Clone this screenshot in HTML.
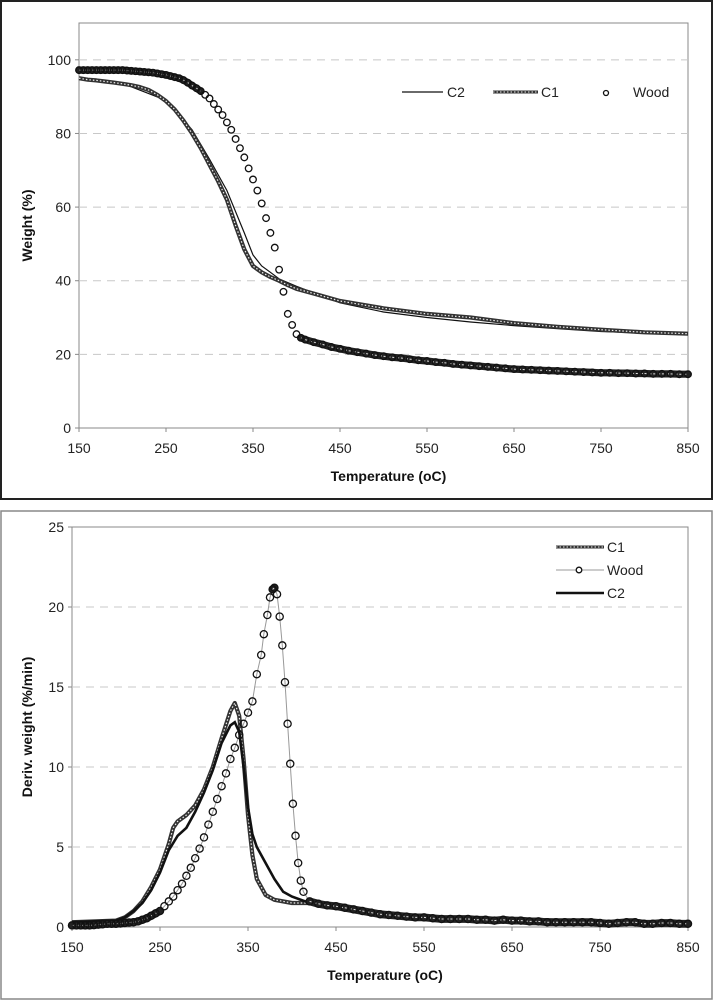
<!DOCTYPE html>
<html><head><meta charset="utf-8">
<style>
body{margin:0;background:#fff;}
svg{display:block;font-family:"Liberation Sans",Arial,sans-serif;}
</style></head>
<body>
<svg id="s" width="714" height="1000" viewBox="0 0 714 1000" xmlns="http://www.w3.org/2000/svg">
<rect x="1" y="1" width="711" height="498" fill="#fff" stroke="#222" stroke-width="2"/>
<rect x="1" y="511" width="711" height="488" fill="#fff" stroke="#888" stroke-width="1.5"/>
<g id="top"></g><g id="bot"></g>
</svg>
<script>
// ---- Top chart data (Weight %) ----
const xTicks = [150,250,350,450,550,650,750,850];
const topYTicks = [0,20,40,60,80,100];
const topC1T = [150,160,170,180,190,200,210,220,230,240,250,260,270,280,290,300,310,320,330,340,350,360,370,380,390,400,420,450,500,550,600,650,700,750,800,850];
const topC1V = [95,94.6,94.4,94.1,93.8,93.5,93.1,92.6,91.8,90.5,88.8,86.5,83.5,80,76,71.5,67,62,55,48.5,44,42.3,41,40,38.8,37.8,36.5,34.5,32.5,31,30,28.5,27.5,26.7,26,25.6];
const topC2T = [150,200,250,280,300,320,340,350,360,370,380,400,450,500,550,600,650,700,750,800,850];
const topC2V = [95,93.6,89,81,73,64.5,53,47,44,42.3,40.5,38.5,34,31.5,30,28.8,27.8,27,26.2,25.8,25.3];
const topWoodT = [150,155,160,165,170,175,180,185,190,195,200,205,210,215,220,225,230,235,240,245,250,255,260,265,270,275,280,285,290,295,300,305,310,315,320,325,330,335,340,345,350,355,360,365,370,375,380,385,390,395,400,405,410,420,430,440,450,460,470,480,490,500,510,520,530,540,550,560,570,580,590,600,610,620,630,640,650,660,670,680,690,700,710,720,730,740,750,760,770,780,790,800,810,820,830,840,850];
const topWoodV = [97.2,97.2,97.2,97.2,97.2,97.2,97.2,97.2,97.2,97.2,97.2,97.1,97,96.9,96.8,96.7,96.6,96.5,96.3,96.1,95.9,95.6,95.3,95,94.5,93.8,93,92.3,91.5,90.5,89.5,88,86.5,85,83,81,78.5,76,73.5,70.5,67.5,64.5,61,57,53,49,43,37,31,28,25.5,24.5,24,23.3,22.7,22,21.5,21,20.6,20.2,19.8,19.5,19.2,19,18.7,18.4,18.2,17.9,17.7,17.4,17.2,17,16.8,16.6,16.4,16.2,16,15.9,15.8,15.7,15.6,15.5,15.4,15.3,15.2,15.1,15,15,14.9,14.9,14.8,14.8,14.7,14.7,14.7,14.6,14.6];
// ---- Bottom chart data (Deriv. weight %/min) ----
const botYTicks = [0,5,10,15,20,25];
const botC1T = [150,200,210,220,230,240,250,260,265,270,280,290,300,310,320,330,335,340,345,350,355,360,370,380,400,420,450,500,550,600,650,700,750,800,850];
const botC1V = [0.3,0.4,0.6,1,1.6,2.5,3.6,5.2,6.2,6.6,7,7.6,8.6,10,11.8,13.5,14,13.2,10.5,7,4.5,3,2,1.7,1.5,1.5,1.3,0.9,0.6,0.5,0.5,0.4,0.3,0.3,0.2];
const botC2T = [150,200,210,220,230,240,250,260,270,280,290,300,310,320,330,335,340,345,350,355,360,370,380,390,400,420,450,500,550,600,650,700,750,800,850];
const botC2V = [0.3,0.4,0.6,1,1.5,2.3,3.4,4.8,5.7,6.2,7.2,8.4,9.8,11.5,12.6,12.8,12.2,10,7.5,5.8,5,4,3,2.2,1.9,1.5,1.3,0.9,0.6,0.5,0.4,0.35,0.3,0.25,0.2];
const botWoodT = [150,155,160,165,170,175,180,185,190,195,200,205,210,215,220,225,230,235,240,245,250,255,260,265,270,275,280,285,290,295,300,305,310,315,320,325,330,335,340,345,350,355,360,365,368,372,375,378,380,383,386,389,392,395,398,401,404,407,410,413,420,430,440,450,460,470,480,490,500,510,520,530,540,550,560,570,580,590,600,610,620,630,640,650,660,670,680,690,700,710,720,730,740,750,760,770,780,790,800,810,820,830,840,850];
const botWoodV = [0.1,0.1,0.1,0.1,0.1,0.12,0.15,0.17,0.2,0.2,0.2,0.22,0.25,0.28,0.3,0.35,0.45,0.55,0.7,0.85,1,1.3,1.6,1.9,2.3,2.7,3.2,3.7,4.3,4.9,5.6,6.4,7.2,8,8.8,9.6,10.5,11.2,12,12.7,13.4,14.1,15.8,17,18.3,19.5,20.6,21.1,21.2,20.8,19.4,17.6,15.3,12.7,10.2,7.7,5.7,4,2.9,2.2,1.6,1.45,1.35,1.3,1.2,1.1,1,0.9,0.8,0.75,0.7,0.65,0.6,0.6,0.55,0.5,0.5,0.5,0.5,0.45,0.45,0.4,0.45,0.4,0.4,0.35,0.35,0.3,0.3,0.3,0.3,0.3,0.3,0.25,0.2,0.25,0.3,0.3,0.2,0.2,0.25,0.25,0.2,0.2];

const NS="http://www.w3.org/2000/svg";
function mk(parent,tag,attrs,txt){const e=document.createElementNS(NS,tag);for(const k in attrs)e.setAttribute(k,attrs[k]);if(txt!==undefined)e.textContent=txt;parent.appendChild(e);return e;}

function axes(g,L,R,T,B,ymax,yTicks,sx,sy,ytitle,prefix){
  mk(g,'rect',{x:L,y:T,width:R-L,height:B-T,fill:'none',stroke:'#888','stroke-width':1});
  yTicks.forEach(v=>{
    if(v>0&&v<ymax){const gl=mk(g,'line',{x1:L,x2:R,y1:sy(v),y2:sy(v),stroke:'#c8c8c8','stroke-dasharray':'8 6'});
    
    }
    mk(g,'line',{x1:L-4,x2:L,y1:sy(v),y2:sy(v),stroke:'#888'});
    const t=mk(g,'text',{x:L-8,y:sy(v)+5,'text-anchor':'end','font-size':14,fill:'#222'},String(v));
    
    
  });
  xTicks.forEach(v=>{
    mk(g,'line',{x1:sx(v),x2:sx(v),y1:B,y2:B+4,stroke:'#888'});
    const t=mk(g,'text',{x:sx(v),y:B+25,'text-anchor':'middle','font-size':14,fill:'#222'},String(v));
    
    
  });
  const xt=mk(g,'text',{x:(L+R)/2+5,y:B+53,'text-anchor':'middle','font-size':14,'font-weight':'bold',fill:'#111'},'Temperature (oC)');
  
  
  const cy=(T+B)/2;
  const yt=mk(g,'text',{x:32,y:cy,'text-anchor':'middle','font-size':14,'font-weight':'bold',fill:'#111',transform:'rotate(-90 32 '+cy+')'},ytitle);
  
  
}
function pathD(T,V,sx,sy){return T.map((t,i)=>(i?'L':'M')+sx(t).toFixed(1)+' '+sy(V[i]).toFixed(1)).join(' ');}
function dottedSeries(g,T,V,sx,sy,name){
  const a=mk(g,'path',{d:pathD(T,V,sx,sy),fill:'none',stroke:'#333','stroke-width':4.2,'stroke-linejoin':'round'});
  
  
  mk(g,'path',{d:pathD(T,V,sx,sy),fill:'none',stroke:'#eee','stroke-width':1.2,'stroke-dasharray':'1.5 2'});
}
function circles(g,T,V,sx,sy,r,name){
  // dense band where markers overlap
  let d='';
  for(let i=1;i<T.length;i++){
    const x0=sx(T[i-1]),y0=sy(V[i-1]),x1=sx(T[i]),y1=sy(V[i]);
    if(Math.abs(y1-y0)<3.5 && Math.abs(x1-x0)<12) d+='M'+x0.toFixed(1)+' '+y0.toFixed(1)+'L'+x1.toFixed(1)+' '+y1.toFixed(1);
  }
  if(d){const b=mk(g,'path',{d:d,fill:'none',stroke:'#222','stroke-width':r*2+0.6,'stroke-linecap':'round'});
  
  
  mk(g,'path',{d:d,fill:'none',stroke:'#ddd','stroke-width':1,'stroke-dasharray':'2 3'});}
  T.forEach((t,i)=>{const c=mk(g,'circle',{cx:sx(t),cy:sy(V[i]),r:r,fill:'none',stroke:'#111','stroke-width':1.3});
  
  });
}

// TOP chart
(function(){
  const g=document.getElementById('top');
  const L=79,R=688,T=23,B=428;
  const sx=v=>L+(v-150)/700*(R-L);
  const sy=v=>B-v/110*(B-T);
  axes(g,L,R,T,B,110,topYTicks,sx,sy,'Weight (%)','top');
  const c2=mk(g,'path',{d:pathD(topC2T,topC2V,sx,sy),fill:'none',stroke:'#111','stroke-width':1.2});
  
  
  dottedSeries(g,topC1T,topC1V,sx,sy,'top-c1-line');
  circles(g,topWoodT,topWoodV,sx,sy,3.3,'top-wood-point');
  const lg=mk(g,'g',{});
  
  
  mk(lg,'line',{x1:402,x2:443,y1:92,y2:92,stroke:'#111','stroke-width':1.2});
  mk(lg,'text',{x:447,y:97,'font-size':14,fill:'#222'},'C2');
  mk(lg,'line',{x1:493,x2:538,y1:92,y2:92,stroke:'#333','stroke-width':3});
  mk(lg,'line',{x1:493,x2:538,y1:92,y2:92,stroke:'#eee','stroke-width':1,'stroke-dasharray':'1.5 2'});
  mk(lg,'text',{x:541,y:97,'font-size':14,fill:'#222'},'C1');
  mk(lg,'circle',{cx:606,cy:93,r:2.5,fill:'none',stroke:'#111','stroke-width':1.3});
  mk(lg,'text',{x:633,y:97,'font-size':14,fill:'#222'},'Wood');
})();

// BOTTOM chart
(function(){
  const g=document.getElementById('bot');
  const L=72,R=688,T=527,B=927;
  const sx=v=>L+(v-150)/700*(R-L);
  const sy=v=>B-v/25*(B-T);
  axes(g,L,R,T,B,25,botYTicks,sx,sy,'Deriv. weight (%/min)','bottom');
  const wl=mk(g,'path',{d:pathD(botWoodT,botWoodV,sx,sy),fill:'none',stroke:'#999','stroke-width':1});
  
  
  dottedSeries(g,botC1T,botC1V,sx,sy,'bottom-c1-line');
  const c2=mk(g,'path',{d:pathD(botC2T,botC2V,sx,sy),fill:'none',stroke:'#111','stroke-width':2.6});
  
  
  circles(g,botWoodT,botWoodV,sx,sy,3.6,'bottom-wood-point');
  const lg=mk(g,'g',{});
  
  
  mk(lg,'line',{x1:556,x2:604,y1:547,y2:547,stroke:'#333','stroke-width':3});
  mk(lg,'line',{x1:556,x2:604,y1:547,y2:547,stroke:'#eee','stroke-width':1,'stroke-dasharray':'1.5 2'});
  mk(lg,'text',{x:607,y:552,'font-size':14,fill:'#222'},'C1');
  mk(lg,'line',{x1:556,x2:604,y1:570,y2:570,stroke:'#999','stroke-width':1});
  mk(lg,'circle',{cx:579,cy:570,r:2.8,fill:'#fff',stroke:'#111','stroke-width':1.3});
  mk(lg,'text',{x:607,y:575,'font-size':14,fill:'#222'},'Wood');
  mk(lg,'line',{x1:556,x2:604,y1:593,y2:593,stroke:'#111','stroke-width':2.6});
  mk(lg,'text',{x:607,y:598,'font-size':14,fill:'#222'},'C2');
})();
</script>
</body></html>
